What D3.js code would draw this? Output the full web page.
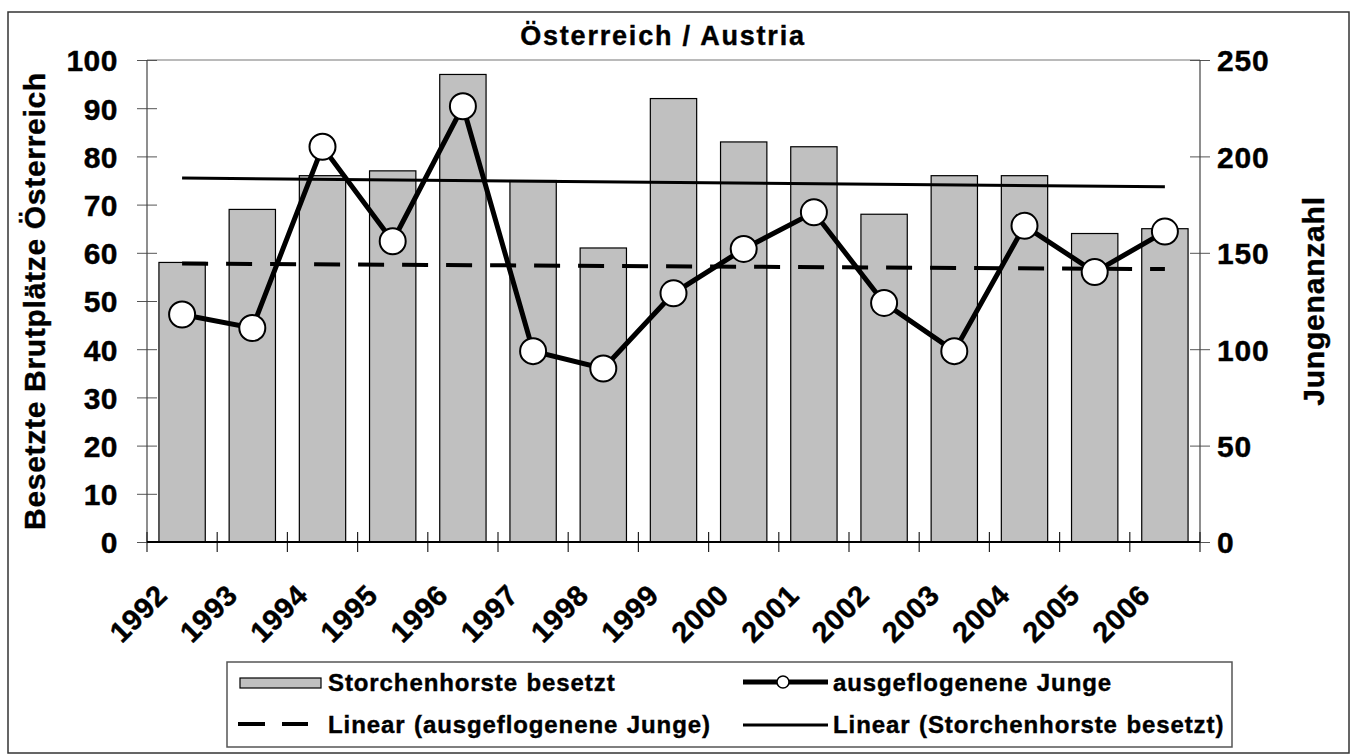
<!DOCTYPE html>
<html lang="de">
<head>
  <meta charset="utf-8">
  <title>Österreich / Austria</title>
  <script src="https://d3js.org/d3.v7.min.js"></script>
  <style>
    body { margin: 0; background: #fff; }
    svg text { font-family: "Liberation Sans", Arial, sans-serif; font-weight: bold; fill: #000;
               stroke: #000; stroke-width: 0.4px; }
  </style>
</head>
<body>
<div id="chart"></div>
<script>
"use strict"
// --- Daten ---
var jahre = ["1992","1993","1994","1995","1996","1997","1998","1999","2000","2001","2002","2003","2004","2005","2006"];
var horsteBesetzt = [58, 69, 76, 77, 97, 75, 61, 92, 83, 82, 68, 76, 76, 64, 65];
var jungeAusgeflogen = [118, 111, 205, 156, 226, 99, 90, 129, 152, 171, 124, 99, 164, 140, 161];
var ticksLinks = [0, 10, 20, 30, 40, 50, 60, 70, 80, 90, 100];
var ticksRechts = [0, 50, 100, 150, 200, 250];
var titel = "Österreich / Austria";
var achseLinks = "Besetzte Brutplätze Österreich";
var achseRechts = "Jungenanzahl";
var legendeTexte = ["Storchenhorste besetzt", "ausgeflogenene Junge",
                    "Linear (ausgeflogenene Junge)", "Linear (Storchenhorste besetzt)"];

var W = 1352, H = 756;
var m = {left: 147, right: 1200, top: 60, bottom: 542};

var svg = d3.select("#chart").append("svg")
  .attr("width", W).attr("height", H);

// Rahmen
svg.append("rect").attr("x", 8).attr("y", 12).attr("width", 1341).attr("height", 741)
  .attr("fill", "none").attr("stroke", "#333").attr("stroke-width", 1.5);

// Skalen
var x = d3.scaleBand().domain(jahre).range([m.left, m.right])
  .paddingInner(0.34).paddingOuter(0.17);
var yL = d3.scaleLinear().domain([0, 100]).range([m.bottom, m.top]);
var yR = d3.scaleLinear().domain([0, 250]).range([m.bottom, m.top]);
var mitte = d => x(d) + x.bandwidth() / 2;

// obere Begrenzung
svg.append("line").attr("x1", m.left).attr("x2", m.right).attr("y1", m.top).attr("y2", m.top)
  .attr("stroke", "#777").attr("stroke-width", 1.2);

// Balken
svg.append("g").selectAll("rect")
  .data(jahre)
  .enter().append("rect")
    .attr("x", d => x(d))
    .attr("y", (d, i) => yL(horsteBesetzt[i]))
    .attr("width", x.bandwidth())
    .attr("height", (d, i) => m.bottom - yL(horsteBesetzt[i]))
    .attr("fill", "#c0c0c0").attr("stroke", "#000").attr("stroke-width", 1.2);

// lineare Trends (kleinste Quadrate)
function trend(werte) {
  var n = werte.length, xm = (n + 1) / 2, ym = d3.mean(werte), sxy = 0, sxx = 0;
  werte.forEach((v, i) => { sxy += (i + 1 - xm) * (v - ym); sxx += (i + 1 - xm) * (i + 1 - xm); });
  var b = sxy / sxx, a = ym - b * xm;
  return [a + b * 1, a + b * n];
}
var tH = trend(horsteBesetzt), tJ = trend(jungeAusgeflogen);
var ersterX = mitte(jahre[0]), letzterX = mitte(jahre[jahre.length - 1]);

svg.append("line")
  .attr("x1", ersterX).attr("x2", letzterX)
  .attr("y1", yR(tJ[0])).attr("y2", yR(tJ[1]))
  .attr("stroke", "#000").attr("stroke-width", 4).attr("stroke-dasharray", "26,18");
svg.append("line")
  .attr("x1", ersterX).attr("x2", letzterX)
  .attr("y1", yL(tH[0])).attr("y2", yL(tH[1]))
  .attr("stroke", "#000").attr("stroke-width", 3);

// Linie Jungen
var linie = d3.line().x((d, i) => mitte(jahre[i])).y(d => yR(d));
svg.append("path").datum(jungeAusgeflogen)
  .attr("d", linie).attr("fill", "none").attr("stroke", "#000")
  .attr("stroke-width", 5).attr("stroke-linejoin", "miter");
svg.append("g").selectAll("circle")
  .data(jungeAusgeflogen)
  .enter().append("circle")
    .attr("cx", (d, i) => mitte(jahre[i]))
    .attr("cy", d => yR(d))
    .attr("r", 13)
    .attr("fill", "#fff").attr("stroke", "#000").attr("stroke-width", 2);

// Achse links
var gL = svg.append("g").attr("transform", "translate(" + (m.left + 10) + ",0)")
  .call(d3.axisLeft(yL).tickValues(ticksLinks).tickSize(20).tickPadding(19));
gL.select(".domain").remove();
gL.selectAll("line").attr("stroke", "#555");
gL.selectAll("text").style("font-size", "30px").style("letter-spacing", "0.5px")
  .attr("dy", "0.36em").style("font-family", null);
svg.append("line").attr("x1", m.left).attr("x2", m.left).attr("y1", m.top).attr("y2", m.bottom)
  .attr("stroke", "#444").attr("stroke-width", 1.2);

// Achse rechts
var gR = svg.append("g").attr("transform", "translate(" + (m.right - 10) + ",0)")
  .call(d3.axisRight(yR).tickValues(ticksRechts).tickSize(20).tickPadding(7));
gR.select(".domain").remove();
gR.selectAll("line").attr("stroke", "#555");
gR.selectAll("text").style("font-size", "30px").style("letter-spacing", "0.8px")
  .attr("dy", "0.36em").style("font-family", null);
svg.append("line").attr("x1", m.right).attr("x2", m.right).attr("y1", m.top).attr("y2", m.bottom)
  .attr("stroke", "#444").attr("stroke-width", 1.2);

// Achse unten
var gX = svg.append("g").attr("transform", "translate(0," + m.bottom + ")")
  .call(d3.axisBottom(x).tickSize(0).tickPadding(0));
gX.select(".domain").remove();
gX.selectAll("text")
  .style("font-size", "29px").style("letter-spacing", "0.6px").style("font-family", null)
  .style("text-anchor", "end")
  .attr("y", 0).attr("dy", 0)
  .attr("transform", "translate(-13,55) rotate(-45)");
var grenzen = jahre.map(d => x(d) - x.step() * x.paddingInner() / 2);
grenzen[0] = m.left;
grenzen.push(m.right);
svg.append("g").selectAll("line").data(grenzen).enter().append("line")
  .attr("x1", d => d).attr("x2", d => d)
  .attr("y1", m.bottom - 10).attr("y2", m.bottom + 10)
  .attr("stroke", "#222").attr("stroke-width", 1.2);
svg.append("line").attr("x1", m.left).attr("x2", m.right).attr("y1", m.bottom).attr("y2", m.bottom)
  .attr("stroke", "#000").attr("stroke-width", 2.2);

// Titel und Achsentitel
svg.append("text").attr("x", 663).attr("y", 45).attr("text-anchor", "middle")
  .style("font-size", "27px").style("letter-spacing", "1.8px").text(titel);
svg.append("text").attr("transform", "translate(45,301) rotate(-90)").attr("text-anchor", "middle")
  .style("font-size", "30px").style("letter-spacing", "0.7px").text(achseLinks);
svg.append("text").attr("transform", "translate(1324,301) rotate(-90)").attr("text-anchor", "middle")
  .style("font-size", "30px").style("letter-spacing", "0.8px").text(achseRechts);

// Legende
var leg = svg.append("g");
leg.append("rect").attr("x", 227).attr("y", 662).attr("width", 1005).attr("height", 85)
  .attr("fill", "#fff").attr("stroke", "#555").attr("stroke-width", 1.5);
leg.append("rect").attr("x", 240).attr("y", 678).attr("width", 81).attr("height", 10)
  .attr("fill", "#c0c0c0").attr("stroke", "#000").attr("stroke-width", 1.2);
leg.append("line").attr("x1", 743).attr("x2", 828).attr("y1", 682).attr("y2", 682)
  .attr("stroke", "#000").attr("stroke-width", 5);
leg.append("circle").attr("cx", 783).attr("cy", 682).attr("r", 6)
  .attr("fill", "#fff").attr("stroke", "#000").attr("stroke-width", 1.5);
leg.append("line").attr("x1", 238).attr("x2", 308).attr("y1", 724).attr("y2", 724)
  .attr("stroke", "#000").attr("stroke-width", 4).attr("stroke-dasharray", "27,17");
leg.append("line").attr("x1", 743).attr("x2", 828).attr("y1", 725).attr("y2", 725)
  .attr("stroke", "#000").attr("stroke-width", 3);
var legPos = [[328, 691], [833, 691], [328, 733], [833, 733]];
leg.selectAll("text.eintrag").data(legendeTexte).enter().append("text")
  .attr("class", "eintrag")
  .attr("x", (d, i) => legPos[i][0]).attr("y", (d, i) => legPos[i][1])
  .style("font-size", "24px").style("letter-spacing", "0.9px").style("word-spacing", "1px")
  .text(d => d);
</script>
</body>
</html>
